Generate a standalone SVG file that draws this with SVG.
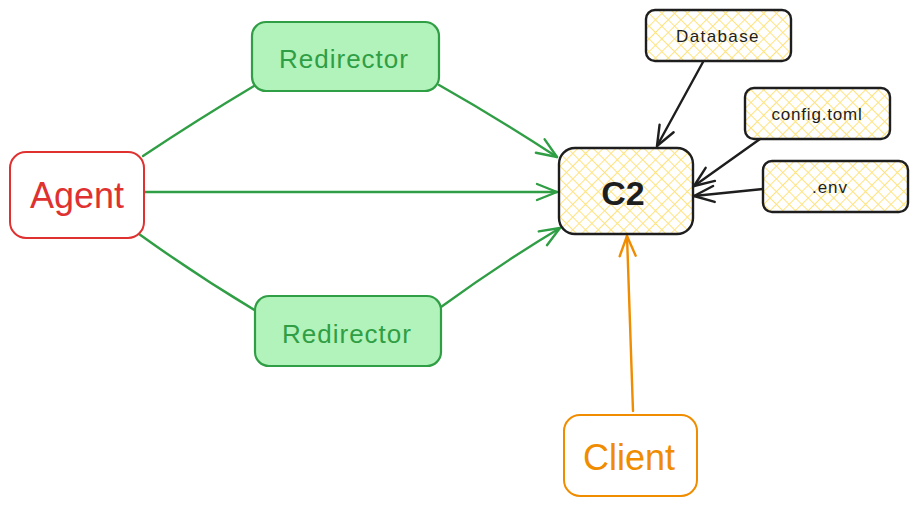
<svg xmlns="http://www.w3.org/2000/svg" width="917" height="506" viewBox="0 0 917 506">
  <style>
    .lbl { font-family: "Liberation Sans", "Noto Sans", sans-serif; text-anchor: middle; dominant-baseline: central; }
    .green { fill: #b2f2bb; stroke: #2f9e44; stroke-width: 2.2; }
    .yellow { fill: url(#hatch); stroke: #1e1e1e; stroke-width: 2.4; }
    .edge { fill: none; stroke-width: 2.4; stroke-linecap: round; }
    .g { stroke: #2f9e44; }
    .k { stroke: #1e1e1e; }
    .o { stroke: #f08c00; }
  </style>
  <defs>
    <pattern id="hatch" patternUnits="userSpaceOnUse" width="9" height="9" patternTransform="rotate(45)">
      <rect width="9" height="9" fill="#ffffff"/>
      <line x1="0" y1="0" x2="0" y2="9" stroke="#ffe380" stroke-width="2"/>
      <line x1="0" y1="0" x2="9" y2="0" stroke="#ffe380" stroke-width="2"/>
    </pattern>
    <marker id="ag" viewBox="-22 -10 24 20" refX="0" refY="0" markerWidth="24" markerHeight="20" markerUnits="userSpaceOnUse" orient="auto">
      <path d="M -20 -8 L 0 0 L -20 8" fill="none" stroke="#2f9e44" stroke-width="2.4" stroke-linecap="round" stroke-linejoin="round"/>
    </marker>
    <marker id="ak" viewBox="-22 -10 24 20" refX="0" refY="0" markerWidth="24" markerHeight="20" markerUnits="userSpaceOnUse" orient="auto">
      <path d="M -20 -8 L 0 0 L -20 8" fill="none" stroke="#1e1e1e" stroke-width="2.4" stroke-linecap="round" stroke-linejoin="round"/>
    </marker>
    <marker id="ao" viewBox="-22 -10 24 20" refX="0" refY="0" markerWidth="24" markerHeight="20" markerUnits="userSpaceOnUse" orient="auto">
      <path d="M -20 -8 L 0 0 L -20 8" fill="none" stroke="#f08c00" stroke-width="2.4" stroke-linecap="round" stroke-linejoin="round"/>
    </marker>
  </defs>

  <g id="connectors">
    <path class="edge g" d="M 143 156 Q 197 120 254 86"/>
    <path class="edge g" d="M 439 85 Q 499 119 557 157" marker-end="url(#ag)"/>
    <path class="edge g" d="M 145 192 L 557 192" marker-end="url(#ag)"/>
    <path class="edge g" d="M 139 234 Q 196 275 256 311"/>
    <path class="edge g" d="M 441 307 Q 500 264 560 228" marker-end="url(#ag)"/>
    <path class="edge k" d="M 703 62 L 657 146" marker-end="url(#ak)"/>
    <path class="edge k" d="M 760 139 L 694 186" marker-end="url(#ak)"/>
    <path class="edge k" d="M 763 189 L 694 196" marker-end="url(#ak)"/>
    <path class="edge o" d="M 633 411 L 627 236" marker-end="url(#ao)"/>
  </g>

  <g id="agent">
    <rect x="10" y="152" width="134" height="86" rx="16" fill="#ffffff" stroke="#e03131" stroke-width="2"/>
    <text class="lbl" x="77" y="195" font-size="36" fill="#e03131">Agent</text>
  </g>

  <g id="redirector-top">
    <rect class="green" x="252" y="22" width="187" height="69" rx="14"/>
    <text class="lbl" x="344" y="59" font-size="26" letter-spacing="1" fill="#2f9e44">Redirector</text>
  </g>

  <g id="redirector-bottom">
    <rect class="green" x="255" y="296" width="186" height="70" rx="14"/>
    <text class="lbl" x="347" y="334" font-size="26" letter-spacing="1" fill="#2f9e44">Redirector</text>
  </g>

  <g id="c2">
    <rect class="yellow" x="559" y="148" width="134" height="86" rx="16"/>
    <text class="lbl" x="623" y="193" font-size="34" font-weight="bold" fill="#1e1e1e">C2</text>
  </g>

  <g id="database">
    <rect class="yellow" x="646" y="10" width="145" height="51" rx="9"/>
    <text class="lbl" x="718" y="36" font-size="17" letter-spacing="1.4" fill="#1e1e1e">Database</text>
  </g>

  <g id="config">
    <rect class="yellow" x="745" y="88" width="145" height="51" rx="9"/>
    <text class="lbl" x="817" y="114" font-size="17" letter-spacing="0.8" fill="#1e1e1e">config.toml</text>
  </g>

  <g id="env">
    <rect class="yellow" x="763" y="161" width="145" height="51" rx="9"/>
    <text class="lbl" x="830" y="187" font-size="17" letter-spacing="1" fill="#1e1e1e">.env</text>
  </g>

  <g id="client">
    <rect x="564" y="415" width="133" height="81" rx="16" fill="#ffffff" stroke="#f08c00" stroke-width="2"/>
    <text class="lbl" x="629" y="457" font-size="36" fill="#f08c00">Client</text>
  </g>
</svg>
